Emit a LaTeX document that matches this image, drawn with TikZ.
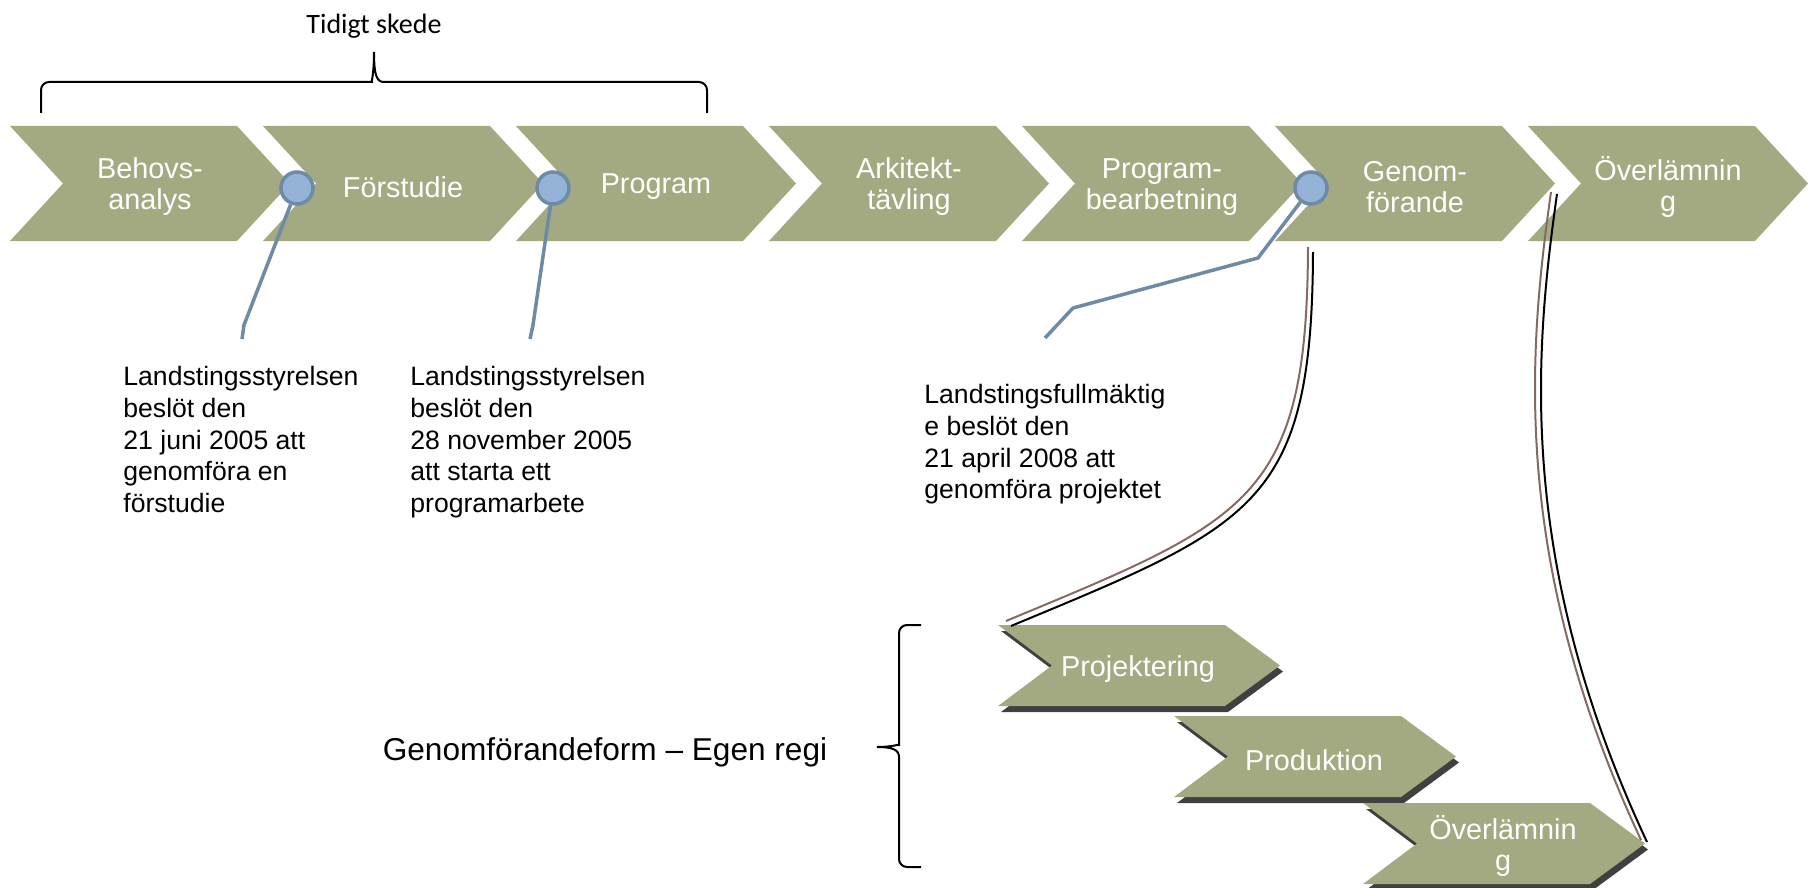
\documentclass[tikz,border=0pt]{standalone}
\usepackage{fontspec}
\setmainfont{Liberation Sans}
\newfontfamily\calibrifont{Carlito}
\usetikzlibrary{calc, positioning}

\definecolor{stagegreen}{RGB}{163,169,128}
\definecolor{stagedark}{RGB}{64,64,64}
\definecolor{dotblue}{RGB}{149,179,215}
\definecolor{callblue}{RGB}{110,138,165}
\definecolor{linkbrown}{RGB}{132,106,96}

\tikzset{
  stage/.style={fill=stagegreen},
  stageshadow/.style={fill=stagedark},
  stagetext/.style={text=white, align=center, inner sep=0pt, font=\fontsize{14.4}{15.5}\selectfont},
  milestone/.style={circle, fill=dotblue, draw=callblue, line width=1.75pt, minimum size=16pt, inner sep=0pt},
  callout/.style={draw=callblue, line width=1.75pt},
  calltext/.style={anchor=north west, align=left, inner sep=0pt, font=\fontsize{13.3}{15.85}\selectfont},
  bracket/.style={draw=black, line width=1pt},
  linkline/.style={line width=1pt},
}

\begin{document}
\begin{tikzpicture}[x=0.5pt, y=-0.5pt]
      \useasboundingbox (0,0) rectangle (1816,888);
      % upper chain
      \fill[stage] (10,126) -- ++(227,0) -- ++(53,57.5) -- ++(-53,57.5) -- ++(-227,0) -- ++(53,-57.5) -- cycle;
      \fill[stage] (263,126) -- ++(227,0) -- ++(53,57.5) -- ++(-53,57.5) -- ++(-227,0) -- ++(53,-57.5) -- cycle;
      \fill[stage] (516,126) -- ++(227,0) -- ++(53,57.5) -- ++(-53,57.5) -- ++(-227,0) -- ++(53,-57.5) -- cycle;
      \fill[stage] (769,126) -- ++(227,0) -- ++(53,57.5) -- ++(-53,57.5) -- ++(-227,0) -- ++(53,-57.5) -- cycle;
      \fill[stage] (1022,126) -- ++(227,0) -- ++(53,57.5) -- ++(-53,57.5) -- ++(-227,0) -- ++(53,-57.5) -- cycle;
      \fill[stage] (1275,126) -- ++(227,0) -- ++(53,57.5) -- ++(-53,57.5) -- ++(-227,0) -- ++(53,-57.5) -- cycle;
      \fill[stage] (1528,126) -- ++(227,0) -- ++(53,57.5) -- ++(-53,57.5) -- ++(-227,0) -- ++(53,-57.5) -- cycle;
      \node[stagetext] (behov) at (150,187) {Behovs-\\analys};
      \node[stagetext] (forstudie) at (403,187) {Förstudie};
      \node[stagetext] (program) at (656,187) {Program};
      \node[stagetext] (arkitekt) at (909,187) {Arkitekt-\\tävling};
      \node[stagetext] (bearb) at (1162,187) {Program-\\bearbetning};
      \node[stagetext] (genomf) at (1415,187) {Genom-\\förande};
      \node[stagetext] (overl) at (1668,187) {Överlämnin\\g};
      % lower chain
      \fill[stageshadow, shift={(3,6)}] (998,625) -- ++(227,0) -- ++(55,40.5) -- ++(-55,40.5) -- ++(-227,0) -- ++(54,-40.5) -- cycle;
      \fill[stage] (998,625) -- ++(227,0) -- ++(55,40.5) -- ++(-55,40.5) -- ++(-227,0) -- ++(54,-40.5) -- cycle;
      \fill[stageshadow, shift={(3,6)}] (1174,716) -- ++(227,0) -- ++(55,40.5) -- ++(-55,40.5) -- ++(-227,0) -- ++(54,-40.5) -- cycle;
      \fill[stage] (1174,716) -- ++(227,0) -- ++(55,40.5) -- ++(-55,40.5) -- ++(-227,0) -- ++(54,-40.5) -- cycle;
      \fill[stageshadow, shift={(3,6)}] (1363,803) -- ++(227,0) -- ++(55,40.5) -- ++(-55,40.5) -- ++(-227,0) -- ++(54,-40.5) -- cycle;
      \fill[stage] (1363,803) -- ++(227,0) -- ++(55,40.5) -- ++(-55,40.5) -- ++(-227,0) -- ++(54,-40.5) -- cycle;
      \node[stagetext] (projekt) at (1138,669) {Projektering};
      \node[stagetext] (produkt) at (1314,760) {Produktion};
      \node[stagetext] (overllow) at (1503,846) {Överlämnin\\g};
      % milestones
      \node[milestone] (m1) at (297,188) {};
      \node[milestone] (m2) at (553,188) {};
      \node[milestone] (m3) at (1311,188) {};
      \coordinate (m1bend) at (244,325);
      \coordinate (m1end) at (242,339);
      \coordinate (m2bend) at (533,325);
      \coordinate (m2end) at (530,339);
      \coordinate (m3bend) at (1258,258);
      \coordinate (m3knee) at (1073,308);
      \coordinate (m3end) at (1045,338);
      \draw[callout] (m1) -- (m1bend) -- (m1end);
      \draw[callout] (m2) -- (m2bend) -- (m2end);
      \draw[callout] (m3) -- (m3bend) -- (m3knee) -- (m3end);
      \node[calltext] (beslut1) at (123,366) {Landstingsstyrelsen\\beslöt den\\21 juni 2005 att\\genomföra en\\förstudie};
      \node[calltext] (beslut2) at (410,366) {Landstingsstyrelsen\\beslöt den\\28 november 2005\\att starta ett\\programarbete};
      \node[calltext] (beslut3) at (924,384) {Landstingsfullmäktig\\e beslöt den\\21 april 2008 att\\genomföra projektet};
      % braces
      \draw[bracket] (41,113) [rounded corners=4pt] -- (41,82) -- (364,82) [sharp corners] .. controls (371,82) and (374,76) .. (374,52) .. controls (374,76) and (377,82) .. (384,82) [rounded corners=4pt] -- (707,82) -- (707,113);
      \node[font=\calibrifont\fontsize{14}{17}\selectfont] (tidigt) at (374,26) {Tidigt skede};
      \draw[bracket] (921,625) [rounded corners=4pt] -- (899,625) -- (899,737) [sharp corners] .. controls (899,744) and (893,747) .. (877,747) .. controls (893,747) and (899,750) .. (899,757) [rounded corners=4pt] -- (899,867) -- (921,867);
      \node[font=\fontsize{15.8}{19}\selectfont] (egenregi) at (605,752) {Genomförandeform – Egen regi};
      % links from Genomförande to the lower chain
      \coordinate (linkAtop) at (1313,252);
      \coordinate (linkAbot) at (1011,626);
      \coordinate (linkBtop) at (1557,194);
      \coordinate (linkBbot) at (1647,842);
      \draw[linkline] (linkAtop) .. controls (1312,505) and (1254,525) .. (linkAbot);
      \draw[linkline, linkbrown, transform canvas={xshift=-2.5pt, yshift=2.5pt}] (linkAtop) .. controls (1312,505) and (1254,525) .. (linkAbot);
      \draw[linkline] (linkBtop) .. controls (1535,350) and (1515,560) .. (linkBbot);
      \draw[linkline, linkbrown, transform canvas={xshift=-3pt, yshift=1pt}] (linkBtop) .. controls (1535,350) and (1515,560) .. (linkBbot);
\end{tikzpicture}
\end{document}
